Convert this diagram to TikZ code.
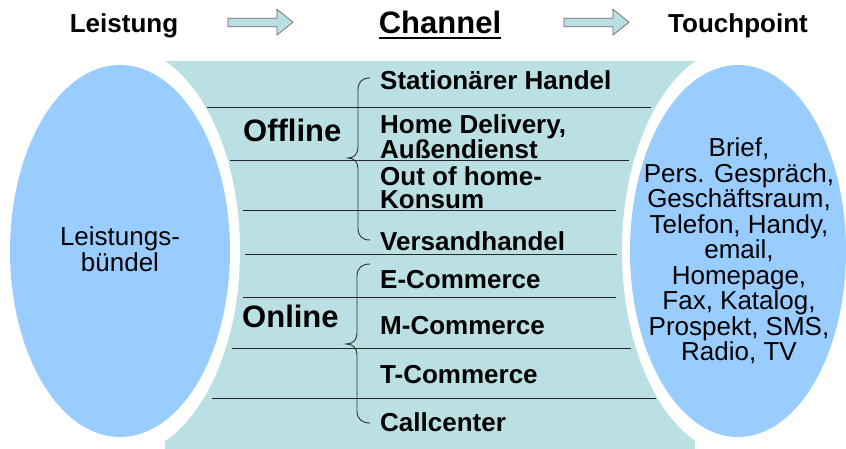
\documentclass[tikz,border=0pt]{standalone}
\usepackage{fontspec}
\setmainfont{Liberation Sans}
\definecolor{teal1}{HTML}{BBE0E3}
\definecolor{blue1}{HTML}{99CCFF}
\begin{document}
\begin{tikzpicture}[x=1pt,y=-1pt,
  lbl/.style={anchor=north west, inner sep=0, font=\bfseries\fontsize{26}{23}\selectfont, align=left},
  grp/.style={anchor=base west, inner sep=0, font=\bfseries\fontsize{31}{31}\selectfont},
  hdr/.style={anchor=base, inner sep=0, font=\bfseries\fontsize{26}{26}\selectfont},
  body/.style={inner sep=0, font=\fontsize{26}{25.5}\selectfont, align=center},
  sep/.style={draw=black!85, line width=0.9pt},
  br/.style={draw=black!80, line width=0.9pt},
  barrow/.style={fill=teal1, draw=black!60, line width=0.7pt}]
\useasboundingbox (0,0) rectangle (846,449);
% central band
\fill[teal1] (165,61) rectangle (695,449);
\fill[white] (120,251) ellipse [x radius=120, y radius=205];
\fill[white] (738,251) ellipse [x radius=116, y radius=204];
\fill[blue1] (120,251) ellipse [x radius=110, y radius=186];
\fill[blue1] (738,251) ellipse [x radius=108, y radius=186];
% header
\node[hdr] (leist) at (124,32.5) {Leistung};
\node[hdr, font=\bfseries\fontsize{31}{31}\selectfont] (chan) at (440,34) {Channel};
\draw[line width=2.6pt] ([yshift=-4pt]chan.base west) -- ([yshift=-4pt]chan.base east);
\node[hdr] (touch) at (738,32.5) {Touchpoint};
\draw[barrow] (228,18.3) -- (277,18.3) -- (277,9.3) -- (293,22.2) -- (277,35) -- (277,26.7) -- (228,26.7) -- cycle;
\draw[barrow] (564,18.3) -- (613,18.3) -- (613,9.3) -- (629,22.2) -- (613,35) -- (613,26.7) -- (564,26.7) -- cycle;
% separator lines
\draw[sep] (207,107) -- (651,107);
\draw[sep] (230,160) -- (629,160);
\draw[sep] (243,210) -- (616,210);
\draw[sep] (245,254) -- (617,254);
\draw[sep] (243,297) -- (616,297);
\draw[sep] (232,348) -- (631,348);
\draw[sep] (212,398) -- (656,398);
% braces
\draw[br] (370,78) .. controls (362,78) and (358,82) .. (358,90) -- (358,147)
  .. controls (358,154) and (354,158) .. (348,158)
  .. controls (354,158) and (358,162) .. (358,169) -- (358,228)
  .. controls (358,236) and (362,240) .. (370,240);
\draw[br] (370,264) .. controls (362,264) and (357,268) .. (357,276) -- (357,333)
  .. controls (357,340) and (353,344) .. (346,344)
  .. controls (353,344) and (357,348) .. (357,355) -- (357,411)
  .. controls (357,419) and (362,423) .. (370,423);
% group labels
\node[grp] (off) at (243,142) {Offline};
\node[grp] (on) at (242,327) {Online};
% channel labels
\node[lbl] (c1) at (380,70) {Stationärer Handel};
\node[lbl] (c2) at (380,114) {Home Delivery,\\Außendienst};
\node[lbl] (c3) at (380,166.5) {Out of home-\\Konsum};
\node[lbl] (c4) at (380,231) {Versandhandel};
\node[lbl] (c5) at (380,270.5) {E-Commerce};
\node[lbl] (c6) at (380,316) {M-Commerce};
\node[lbl] (c7) at (380,365) {T-Commerce};
\node[lbl] (c8) at (380,412.5) {Callcenter};
% ellipse texts
\node[body] (lb) at (120,249) {Leistungs-\\bündel};
\node[body] (tp) at (739,251) {Brief,\\Pers. Gespräch,\\Geschäftsraum,\\Telefon, Handy,\\email,\\Homepage,\\Fax, Katalog,\\Prospekt, SMS,\\Radio, TV};
\end{tikzpicture}
\end{document}
